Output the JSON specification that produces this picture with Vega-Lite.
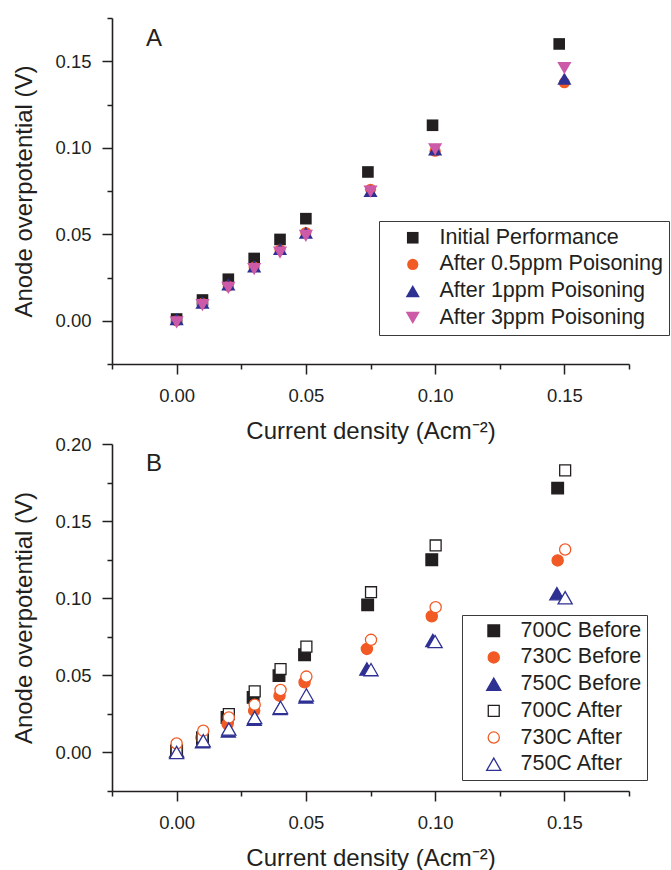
{
  "$schema": "https://vega.github.io/schema/vega-lite/v6.json",
  "background": "white",
  "padding": {"left": 12, "top": 17, "right": 0, "bottom": 0},
  "spacing": 80,
  "bounds": "flush",
  "resolve": {
    "scale": {"color": "independent", "shape": "independent", "fill": "independent", "stroke": "independent", "size": "independent"},
    "legend": {"color": "independent", "shape": "independent", "fill": "independent", "stroke": "independent", "size": "independent"}
  },
  "config": {
    "font": "Liberation Sans",
    "view": {"stroke": null},
    "axis": {
      "grid": false,
      "domainColor": "#231f20",
      "domainWidth": 1.6,
      "tickColor": "#231f20",
      "tickWidth": 1.5,
      "labelColor": "#231f20",
      "labelFont": "Liberation Sans",
      "labelFontSize": 18.5,
      "titleFont": "Liberation Sans",
      "titleFontSize": 24,
      "titleFontWeight": "normal",
      "titleColor": "#231f20"
    },
    "axisX": {"labelPadding": 12},
    "axisY": {"labelPadding": 11},
    "legend": {
      "labelFont": "Liberation Sans",
      "labelFontSize": 21.5,
      "labelColor": "#231f20",
      "labelLimit": 320,
      "strokeColor": "#3a3a3a",
      "fillColor": "white",
      "rowPadding": 3.7,
      "symbolSize": 140,
      "symbolStrokeWidth": 1.3
    }
  },
  "vconcat": [
    {
      "width": 517,
      "height": 346,
      "title": {"text": "A", "anchor": "start", "frame": "group", "orient": "none", "offset": 0, "dx": 34, "dy": 21, "align": "left", "baseline": "middle", "fontSize": 24, "fontWeight": "normal", "color": "#231f20", "font": "Liberation Sans"},
      "data": {"values": [
        {"x": 0, "y": 0.001, "series": "Initial Performance"},
        {"x": 0.01, "y": 0.012, "series": "Initial Performance"},
        {"x": 0.02, "y": 0.024, "series": "Initial Performance"},
        {"x": 0.03, "y": 0.036, "series": "Initial Performance"},
        {"x": 0.04, "y": 0.047, "series": "Initial Performance"},
        {"x": 0.05, "y": 0.059, "series": "Initial Performance"},
        {"x": 0.074, "y": 0.086, "series": "Initial Performance"},
        {"x": 0.099, "y": 0.113, "series": "Initial Performance"},
        {"x": 0.148, "y": 0.160, "series": "Initial Performance"},
        {"x": 0, "y": 0.0, "series": "After 0.5ppm Poisoning"},
        {"x": 0.01, "y": 0.010, "series": "After 0.5ppm Poisoning"},
        {"x": 0.02, "y": 0.020, "series": "After 0.5ppm Poisoning"},
        {"x": 0.03, "y": 0.031, "series": "After 0.5ppm Poisoning"},
        {"x": 0.04, "y": 0.041, "series": "After 0.5ppm Poisoning"},
        {"x": 0.05, "y": 0.051, "series": "After 0.5ppm Poisoning"},
        {"x": 0.075, "y": 0.076, "series": "After 0.5ppm Poisoning"},
        {"x": 0.1, "y": 0.098, "series": "After 0.5ppm Poisoning"},
        {"x": 0.15, "y": 0.1376, "series": "After 0.5ppm Poisoning"},
        {"x": 0, "y": 0.001, "series": "After 1ppm Poisoning"},
        {"x": 0.01, "y": 0.0105, "series": "After 1ppm Poisoning"},
        {"x": 0.02, "y": 0.021, "series": "After 1ppm Poisoning"},
        {"x": 0.03, "y": 0.0315, "series": "After 1ppm Poisoning"},
        {"x": 0.04, "y": 0.0415, "series": "After 1ppm Poisoning"},
        {"x": 0.05, "y": 0.051, "series": "After 1ppm Poisoning"},
        {"x": 0.075, "y": 0.075, "series": "After 1ppm Poisoning"},
        {"x": 0.1, "y": 0.099, "series": "After 1ppm Poisoning"},
        {"x": 0.15, "y": 0.140, "series": "After 1ppm Poisoning"},
        {"x": 0, "y": -0.001, "series": "After 3ppm Poisoning"},
        {"x": 0.01, "y": 0.009, "series": "After 3ppm Poisoning"},
        {"x": 0.02, "y": 0.019, "series": "After 3ppm Poisoning"},
        {"x": 0.03, "y": 0.0298, "series": "After 3ppm Poisoning"},
        {"x": 0.04, "y": 0.0394, "series": "After 3ppm Poisoning"},
        {"x": 0.05, "y": 0.049, "series": "After 3ppm Poisoning"},
        {"x": 0.075, "y": 0.0746, "series": "After 3ppm Poisoning"},
        {"x": 0.1, "y": 0.099, "series": "After 3ppm Poisoning"},
        {"x": 0.15, "y": 0.146, "series": "After 3ppm Poisoning"}
      ]},
      "mark": {"type": "point", "filled": true, "strokeWidth": 1.2, "opacity": 1},
      "encoding": {
        "x": {
          "field": "x", "type": "quantitative",
          "scale": {"domain": [-0.025, 0.175], "nice": false, "zero": false},
          "axis": {
            "title": "Current density (Acm⁻²)",
            "values": [-0.025, 0, 0.025, 0.05, 0.075, 0.1, 0.125, 0.15, 0.175],
            "labelExpr": "abs(datum.value*20 - round(datum.value*20)) < 0.001 ? format(datum.value, '.2f') : ''",
            "tickSize": {"condition": {"test": "abs(datum.value*20 - round(datum.value*20)) < 0.001", "value": 10}, "value": 5},
            "titleY": 67, "titleBaseline": "middle"
          }
        },
        "y": {
          "field": "y", "type": "quantitative",
          "scale": {"domain": [-0.025, 0.175], "nice": false, "zero": false},
          "axis": {
            "title": "Anode overpotential (V)",
            "values": [-0.025, 0, 0.025, 0.05, 0.075, 0.1, 0.125, 0.15, 0.175],
            "labelExpr": "abs(datum.value*20 - round(datum.value*20)) < 0.001 ? format(datum.value, '.2f') : ''",
            "tickSize": {"condition": {"test": "abs(datum.value*20 - round(datum.value*20)) < 0.001", "value": 10}, "value": 5},
            "titleX": -88, "titleBaseline": "middle"
          }
        },
        "color": {
          "field": "series", "type": "nominal",
          "scale": {
            "domain": ["Initial Performance", "After 0.5ppm Poisoning", "After 1ppm Poisoning", "After 3ppm Poisoning"],
            "range": ["#231f20", "#f15a24", "#2e3192", "#cc5aa8"]
          },
          "legend": {"title": null, "orient": "none", "legendX": 267, "legendY": 203, "padding": 6, "symbolOffset": 17, "labelOffset": 16}
        },
        "shape": {
          "field": "series", "type": "nominal",
          "scale": {
            "domain": ["Initial Performance", "After 0.5ppm Poisoning", "After 1ppm Poisoning", "After 3ppm Poisoning"],
            "range": ["square", "circle", "triangle-up", "triangle-down"]
          },
          "legend": {"title": null, "orient": "none", "legendX": 267, "legendY": 203, "padding": 6, "symbolOffset": 17, "labelOffset": 16}
        },
        "size": {
          "field": "series", "type": "nominal",
          "scale": {
            "type": "ordinal",
            "domain": ["Initial Performance", "After 0.5ppm Poisoning", "After 1ppm Poisoning", "After 3ppm Poisoning"],
            "range": [135, 125, 200, 200]
          },
          "legend": {"title": null, "orient": "none", "legendX": 267, "legendY": 203, "padding": 6, "symbolOffset": 17, "labelOffset": 16}
        }
      }
    },
    {
      "width": 517,
      "height": 347,
      "title": {"text": "B", "anchor": "start", "frame": "group", "orient": "none", "offset": 0, "dx": 34, "dy": 20, "align": "left", "baseline": "middle", "fontSize": 24, "fontWeight": "normal", "color": "#231f20", "font": "Liberation Sans"},
      "data": {"values": [
        {"x": 0, "y": 0.001, "series": "700C Before"},
        {"x": 0.01, "y": 0.009, "series": "700C Before"},
        {"x": 0.0195, "y": 0.0227, "series": "700C Before"},
        {"x": 0.0296, "y": 0.0357, "series": "700C Before"},
        {"x": 0.0396, "y": 0.0498, "series": "700C Before"},
        {"x": 0.0495, "y": 0.0634, "series": "700C Before"},
        {"x": 0.0739, "y": 0.0957, "series": "700C Before"},
        {"x": 0.0987, "y": 0.125, "series": "700C Before"},
        {"x": 0.1474, "y": 0.1714, "series": "700C Before"},
        {"x": 0, "y": 0.003, "series": "730C Before"},
        {"x": 0.0096, "y": 0.0097, "series": "730C Before"},
        {"x": 0.0197, "y": 0.0184, "series": "730C Before"},
        {"x": 0.03, "y": 0.0271, "series": "730C Before"},
        {"x": 0.0398, "y": 0.0368, "series": "730C Before"},
        {"x": 0.0495, "y": 0.0455, "series": "730C Before"},
        {"x": 0.0736, "y": 0.0671, "series": "730C Before"},
        {"x": 0.0987, "y": 0.0883, "series": "730C Before"},
        {"x": 0.1474, "y": 0.1245, "series": "730C Before"},
        {"x": 0, "y": 0.001, "series": "750C Before"},
        {"x": 0.01, "y": 0.007, "series": "750C Before"},
        {"x": 0.02, "y": 0.014, "series": "750C Before"},
        {"x": 0.03, "y": 0.0215, "series": "750C Before"},
        {"x": 0.04, "y": 0.0285, "series": "750C Before"},
        {"x": 0.05, "y": 0.036, "series": "750C Before"},
        {"x": 0.0736, "y": 0.0541, "series": "750C Before"},
        {"x": 0.0991, "y": 0.0726, "series": "750C Before"},
        {"x": 0.1471, "y": 0.1029, "series": "750C Before"},
        {"x": 0, "y": 0.001, "series": "700C After"},
        {"x": 0.01, "y": 0.010, "series": "700C After"},
        {"x": 0.0202, "y": 0.0249, "series": "700C After"},
        {"x": 0.0302, "y": 0.0396, "series": "700C After"},
        {"x": 0.0402, "y": 0.0541, "series": "700C After"},
        {"x": 0.0502, "y": 0.0686, "series": "700C After"},
        {"x": 0.0752, "y": 0.1039, "series": "700C After"},
        {"x": 0.1002, "y": 0.1342, "series": "700C After"},
        {"x": 0.1503, "y": 0.1829, "series": "700C After"},
        {"x": 0, "y": 0.0058, "series": "730C After"},
        {"x": 0.0103, "y": 0.0141, "series": "730C After"},
        {"x": 0.0202, "y": 0.0227, "series": "730C After"},
        {"x": 0.0302, "y": 0.031, "series": "730C After"},
        {"x": 0.0402, "y": 0.0405, "series": "730C After"},
        {"x": 0.0502, "y": 0.0492, "series": "730C After"},
        {"x": 0.0752, "y": 0.073, "series": "730C After"},
        {"x": 0.1002, "y": 0.0942, "series": "730C After"},
        {"x": 0.1503, "y": 0.1316, "series": "730C After"},
        {"x": 0, "y": 0.0, "series": "750C After"},
        {"x": 0.0103, "y": 0.0076, "series": "750C After"},
        {"x": 0.0202, "y": 0.0152, "series": "750C After"},
        {"x": 0.0302, "y": 0.0227, "series": "750C After"},
        {"x": 0.0402, "y": 0.0292, "series": "750C After"},
        {"x": 0.0502, "y": 0.0373, "series": "750C After"},
        {"x": 0.0752, "y": 0.0537, "series": "750C After"},
        {"x": 0.1, "y": 0.0719, "series": "750C After"},
        {"x": 0.1503, "y": 0.1003, "series": "750C After"}
      ]},
      "mark": {"type": "point", "filled": true, "strokeWidth": 1.3, "opacity": 1},
      "encoding": {
        "x": {
          "field": "x", "type": "quantitative",
          "scale": {"domain": [-0.025, 0.175], "nice": false, "zero": false},
          "axis": {
            "title": "Current density (Acm⁻²)",
            "values": [-0.025, 0, 0.025, 0.05, 0.075, 0.1, 0.125, 0.15, 0.175],
            "labelExpr": "abs(datum.value*20 - round(datum.value*20)) < 0.001 ? format(datum.value, '.2f') : ''",
            "tickSize": {"condition": {"test": "abs(datum.value*20 - round(datum.value*20)) < 0.001", "value": 10}, "value": 5},
            "titleY": 67, "titleBaseline": "middle"
          }
        },
        "y": {
          "field": "y", "type": "quantitative",
          "scale": {"domain": [-0.025, 0.2], "nice": false, "zero": false},
          "axis": {
            "title": "Anode overpotential (V)",
            "values": [-0.025, 0, 0.025, 0.05, 0.075, 0.1, 0.125, 0.15, 0.175, 0.2],
            "labelExpr": "abs(datum.value*20 - round(datum.value*20)) < 0.001 ? format(datum.value, '.2f') : ''",
            "tickSize": {"condition": {"test": "abs(datum.value*20 - round(datum.value*20)) < 0.001", "value": 10}, "value": 5},
            "titleX": -88, "titleBaseline": "middle"
          }
        },
        "fill": {
          "field": "series", "type": "nominal",
          "scale": {
            "domain": ["700C Before", "730C Before", "750C Before", "700C After", "730C After", "750C After"],
            "range": ["#231f20", "#f15a24", "#2e3192", "white", "white", "white"]
          },
          "legend": {"title": null, "orient": "none", "legendX": 350, "legendY": 171, "padding": 5, "symbolOffset": 16, "labelOffset": 16}
        },
        "stroke": {
          "field": "series", "type": "nominal",
          "scale": {
            "domain": ["700C Before", "730C Before", "750C Before", "700C After", "730C After", "750C After"],
            "range": ["#231f20", "#f15a24", "#2e3192", "#231f20", "#f15a24", "#2e3192"]
          },
          "legend": {"title": null, "orient": "none", "legendX": 350, "legendY": 171, "padding": 5, "symbolOffset": 16, "labelOffset": 16}
        },
        "shape": {
          "field": "series", "type": "nominal",
          "scale": {
            "domain": ["700C Before", "730C Before", "750C Before", "700C After", "730C After", "750C After"],
            "range": ["square", "circle", "triangle-up", "square", "circle", "triangle-up"]
          },
          "legend": {"title": null, "orient": "none", "legendX": 350, "legendY": 171, "padding": 5, "symbolOffset": 16, "labelOffset": 16}
        },
        "size": {
          "field": "series", "type": "nominal",
          "scale": {
            "type": "ordinal",
            "domain": ["700C Before", "730C Before", "750C Before", "700C After", "730C After", "750C After"],
            "range": [135, 125, 200, 120, 125, 200]
          },
          "legend": {"title": null, "orient": "none", "legendX": 350, "legendY": 171, "padding": 5, "symbolOffset": 16, "labelOffset": 16}
        }
      }
    }
  ]
}
